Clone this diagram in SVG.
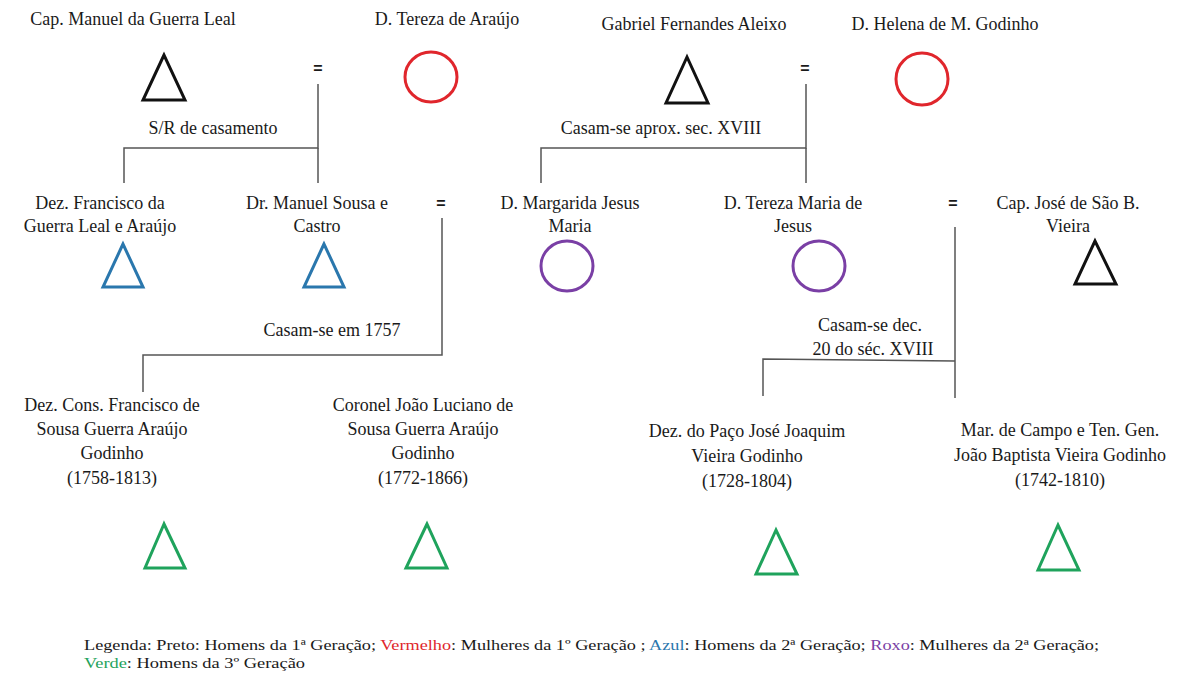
<svg xmlns="http://www.w3.org/2000/svg" width="1182" height="675" viewBox="0 0 1182 675">
<style>
text{font-family:"Liberation Serif","Times New Roman",serif;fill:#1a1a1a}
.n{font-size:18px;text-anchor:middle}
.eq{font-family:"Liberation Sans",Arial,sans-serif;font-size:16px;font-weight:bold;text-anchor:middle}
.lbl{font-size:18px;text-anchor:middle}
.tri{fill:none;stroke-width:3;stroke-linejoin:miter}
.circ{fill:none;stroke-width:3}
.k{stroke:#111}
.r{stroke:#e0262c}
.b{stroke:#2a77ad}
.p{stroke:#7a3fa5}
.g{stroke:#1fa35c}
.con{fill:none;stroke:#555;stroke-width:1.5}
.leg{font-size:14px}
</style>
<rect width="1182" height="675" fill="#fff"/>

<g id="connectors">
<polyline class="con" points="318,84 318,148 124,148 124,183"/>
<line class="con" x1="318" y1="148" x2="318" y2="183"/>
<polyline class="con" points="806,84 806,148 541,148 541,183"/>
<line class="con" x1="806" y1="148" x2="806" y2="183"/>
<polyline class="con" points="442,218 442,355 143,355 143,392"/>
<polyline class="con" points="955,227 955,398"/>
<polyline class="con" points="955,361 763,359 763,396"/>
<text class="lbl" x="213" y="134">S/R de casamento</text>
<text class="lbl" x="661" y="134">Casam-se aprox. sec. XVIII</text>
<text class="lbl" x="332" y="336">Casam-se em 1757</text>
<text class="lbl" x="870" y="331">Casam-se dec.</text>
<text class="lbl" x="873" y="355">20 do séc. XVIII</text>
<text class="eq" x="318" y="74">=</text>
<text class="eq" x="805" y="74">=</text>
<text class="eq" x="441" y="209">=</text>
<text class="eq" x="953" y="209">=</text>
</g>

<g id="manuel">
<text class="n" x="133" y="25">Cap. Manuel da Guerra Leal</text>
<polygon class="tri k" points="164,55 143,100 185,100"/>
</g>
<g id="tereza">
<text class="n" x="447" y="25">D. Tereza de Araújo</text>
<ellipse class="circ r" cx="431" cy="77" rx="26" ry="25"/>
</g>
<g id="gabriel">
<text class="n" x="694" y="30">Gabriel Fernandes Aleixo</text>
<polygon class="tri k" points="687,57 666,103 708,103"/>
</g>
<g id="helena">
<text class="n" x="945" y="30">D. Helena de M. Godinho</text>
<ellipse class="circ r" cx="922" cy="79" rx="26" ry="26"/>
</g>

<g id="francisco">
<text class="n" x="100" y="209">Dez. Francisco da</text>
<text class="n" x="100" y="232">Guerra Leal e Araújo</text>
<polygon class="tri b" points="123,244 103,287 143,287"/>
</g>
<g id="manuelsousa">
<text class="n" x="317" y="209">Dr. Manuel Sousa e</text>
<text class="n" x="317" y="232">Castro</text>
<polygon class="tri b" points="324,244 304,287 344,287"/>
</g>
<g id="margarida">
<text class="n" x="570" y="209">D. Margarida Jesus</text>
<text class="n" x="570" y="232">Maria</text>
<ellipse class="circ p" cx="567" cy="266" rx="26" ry="25"/>
</g>
<g id="terezamaria">
<text class="n" x="793" y="209">D. Tereza Maria de</text>
<text class="n" x="793" y="232">Jesus</text>
<ellipse class="circ p" cx="819" cy="266" rx="26" ry="25"/>
</g>
<g id="jose">
<text class="n" x="1068" y="209">Cap. José de São B.</text>
<text class="n" x="1068" y="232">Vieira</text>
<polygon class="tri k" points="1095,241 1075,284 1116,284"/>
</g>

<g id="franciscosousa">
<text class="n" x="112" y="411">Dez. Cons. Francisco de</text>
<text class="n" x="112" y="435">Sousa Guerra Araújo</text>
<text class="n" x="112" y="459">Godinho</text>
<text class="n" x="112" y="484">(1758-1813)</text>
<polygon class="tri g" points="164,524 145,568 185,568"/>
</g>
<g id="joaoluciano">
<text class="n" x="423" y="411">Coronel João Luciano de</text>
<text class="n" x="423" y="435">Sousa Guerra Araújo</text>
<text class="n" x="423" y="459">Godinho</text>
<text class="n" x="423" y="484">(1772-1866)</text>
<polygon class="tri g" points="427,524 406,568 447,568"/>
</g>
<g id="josejoaquim">
<text class="n" x="747" y="437">Dez. do Paço José Joaquim</text>
<text class="n" x="747" y="462">Vieira Godinho</text>
<text class="n" x="747" y="487">(1728-1804)</text>
<polygon class="tri g" points="776,530 756,574 797,574"/>
</g>
<g id="joaobaptista">
<text class="n" x="1060" y="436">Mar. de Campo e Ten. Gen.</text>
<text class="n" x="1060" y="461">João Baptista Vieira Godinho</text>
<text class="n" x="1060" y="486">(1742-1810)</text>
<polygon class="tri g" points="1058,525 1038,570 1079,570"/>
</g>

<g id="legend">
<text class="leg" x="84" y="650" textLength="1015" lengthAdjust="spacingAndGlyphs">Legenda: Preto: Homens da 1ª Geração; <tspan fill="#e0262c">Vermelho</tspan>: Mulheres da 1º Geração ; <tspan fill="#2a77ad">Azul</tspan>: Homens da 2ª Geração; <tspan fill="#7a3fa5">Roxo</tspan>: Mulheres da 2ª Geração;</text>
<text class="leg" x="84" y="668" textLength="221" lengthAdjust="spacingAndGlyphs"><tspan fill="#1fa35c">Verde</tspan>: Homens da 3º Geração</text>
</g>
</svg>
